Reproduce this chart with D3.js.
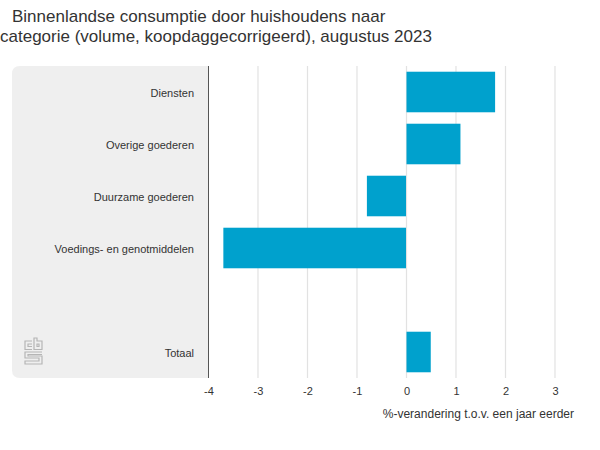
<!DOCTYPE html>
<html>
<head>
<meta charset="utf-8">
<script src="https://cdn.jsdelivr.net/npm/d3@7"></script>
<style>
  html, body { margin: 0; padding: 0; background: #fff; }
  text { font-family: "Liberation Sans", Arial, sans-serif; }
</style>
</head>
<body>
<div id="chart"></div>
<script>
const categories = ["Diensten", "Overige goederen", "Duurzame goederen", "Voedings- en genotmiddelen", "", "Totaal"];
const values = [1.8, 1.1, -0.8, -3.7, null, 0.5];
const xTicks = [-4, -3, -2, -1, 0, 1, 2, 3];
const titleLines = ["Binnenlandse consumptie door huishoudens naar", "categorie (volume, koopdaggecorrigeerd), augustus 2023"];
const axisTitle = "%-verandering t.o.v. een jaar eerder";

const w = 600, h = 450;
const svg = d3.select("#chart").append("svg")
  .attr("width", w)
  .attr("height", h)
  .style("display", "block");

const x = d3.scaleLinear().domain([-4, 3]).range([208.5, 555]);
const y = d3.scaleBand().domain(d3.range(categories.length)).range([66, 378]).paddingInner(0.22).paddingOuter(0.11);

// title
svg.selectAll(".title")
  .data(titleLines)
  .enter()
  .append("text")
  .attr("class", "title")
  .attr("x", (d, i) => i == 0 ? 12 : 0)
  .attr("y", (d, i) => 22 + i * 20)
  .attr("font-size", 17)
  .attr("fill", "#333")
  .text(d => d);

// grey label panel, rounded on the left only
const px = 12, pr = 8, pTop = 66, pBottom = 378, pRight = x(-4);
svg.append("path")
  .attr("d", `M${pRight},${pTop}H${px + pr}Q${px},${pTop} ${px},${pTop + pr}V${pBottom - pr}Q${px},${pBottom} ${px + pr},${pBottom}H${pRight}Z`)
  .attr("fill", "#efefef");

// gridlines
svg.selectAll(".grid")
  .data(xTicks.slice(1))
  .enter()
  .append("line")
  .attr("class", "grid")
  .attr("x1", d => x(d))
  .attr("x2", d => x(d))
  .attr("y1", pTop)
  .attr("y2", pBottom)
  .attr("stroke", "#e2e2e2")
  .attr("stroke-width", 1.2);

// bars
svg.selectAll(".bar")
  .data(values.map((v, i) => ({ v, i })).filter(d => d.v !== null))
  .enter()
  .append("rect")
  .attr("class", "bar")
  .attr("x", d => x(Math.min(0, d.v)))
  .attr("y", d => y(d.i))
  .attr("width", d => Math.abs(x(d.v) - x(0)) - 0.5)
  .attr("height", y.bandwidth())
  .attr("fill", "#00a1cd");

// category axis line
svg.append("line")
  .attr("x1", x(-4))
  .attr("x2", x(-4))
  .attr("y1", pTop)
  .attr("y2", pBottom)
  .attr("stroke", "#555")
  .attr("stroke-width", 1);

// category labels
svg.selectAll(".cat")
  .data(categories)
  .enter()
  .append("text")
  .attr("class", "cat")
  .attr("x", 194)
  .attr("y", (d, i) => y(i) + y.bandwidth() / 2 + 5)
  .attr("text-anchor", "end")
  .attr("font-size", 11)
  .attr("fill", "#333")
  .text(d => d);

// x axis labels
const xAxis = svg.append("g")
  .attr("transform", `translate(0,${pBottom})`)
  .call(d3.axisBottom(x).tickValues(xTicks).tickSize(0).tickPadding(9).tickFormat(d => String(d)));
xAxis.select(".domain").remove();
xAxis.selectAll("text")
  .attr("font-family", '"Liberation Sans", Arial, sans-serif')
  .attr("font-size", 11)
  .attr("fill", "#333");

svg.append("text")
  .attr("x", 574)
  .attr("y", 418)
  .attr("text-anchor", "end")
  .attr("font-size", 12)
  .attr("fill", "#333")
  .text(axisTitle);

// cbs logo
const logo = svg.append("g")
  .attr("transform", "translate(24,338)")
  .attr("fill", "none")
  .attr("stroke", "#b5b5b5")
  .attr("stroke-width", 1.2);
logo.append("path").attr("d", "M8,3H1V11.5H8M8,6H4V8.5H8");
logo.append("path").attr("d", "M10,0V11.5H18V3H13V0ZM13,6H15V8.5H13Z");
logo.append("path").attr("d", "M18,14H1V20H15V23H1V26H18V18H4V16.5H18");
</script>
</body>
</html>
